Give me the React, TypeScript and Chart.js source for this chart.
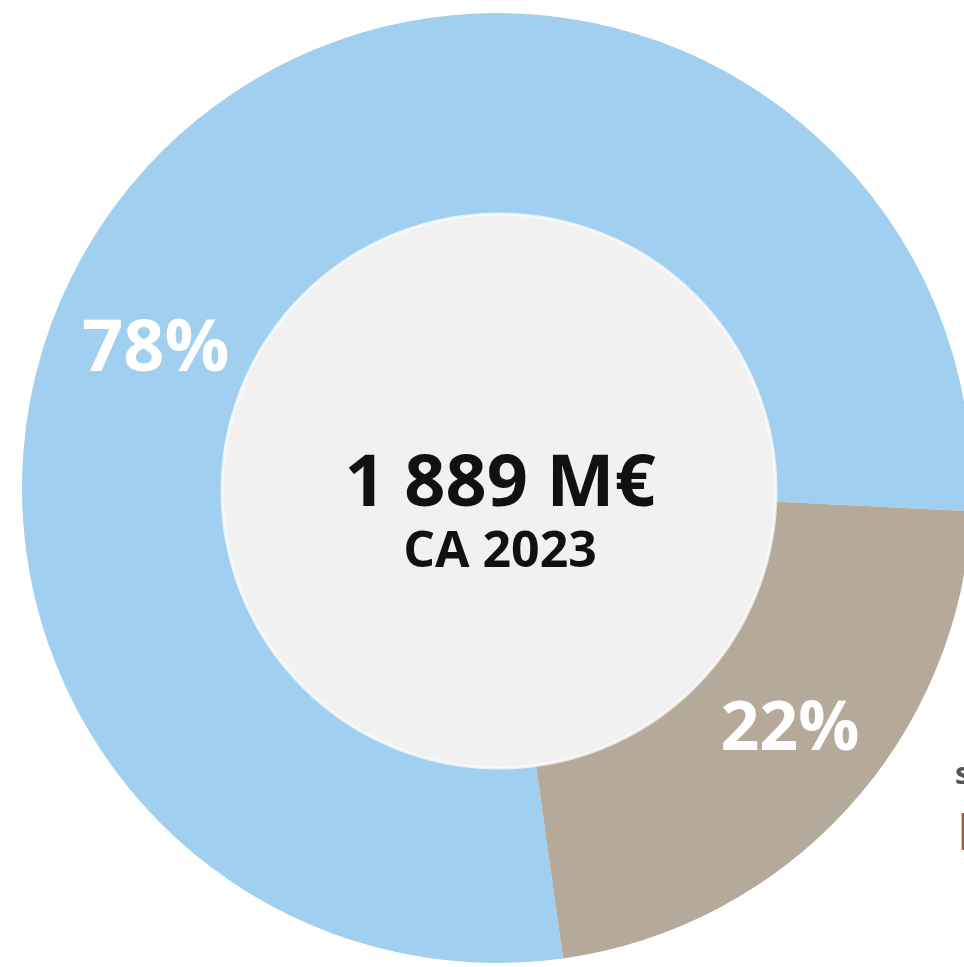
import React, { useEffect, useRef } from "react";
import { Chart, registerables } from "chart.js";

Chart.register(...registerables);

// ---- data ----
const categories = ["Segment A", "Segment B"];
const shares = [78, 22];
const sliceColors = ["#a0cff0", "#b5a999"];
const sliceLabels = ["78%", "22%"];
const centerTitle = "1 889 M€";
const centerSubtitle = "CA 2023";
const edgeTexts = ["s", "I"];

// ---- layout / style ----
const CANVAS_W = 994;
const CANVAS_H = 976;
const OUTER_R = 475;
const INNER_R = 272;
const DISC_R = 277;
const DISC_DX = 2;
const DISC_DY = 3;
const ROTATION = 172.0;
const LABEL_ANGLES = [292.7, 129.0]; // degrees clockwise from top
const LABEL_RADII = [370, 377];
const LABEL_SIZES = [72, 68];
const FONT = "'Open Sans', 'DejaVu Sans', sans-serif";

const overlayPlugin = {
  id: "overlay",
  afterDatasetsDraw(chart: any) {
    const ctx = chart.ctx as CanvasRenderingContext2D;
    const meta = chart.getDatasetMeta(0);
    const arc0 = meta.data[0] as any;
    const { x: cx, y: cy } = arc0.getProps(["x", "y"], true);
    ctx.save();
    // inner disc
    ctx.beginPath();
    ctx.arc(cx + DISC_DX, cy + DISC_DY, DISC_R, 0, Math.PI * 2);
    ctx.fillStyle = "#f1f1f1";
    ctx.fill();
    ctx.lineWidth = 3;
    ctx.strokeStyle = "rgba(255,255,255,0.7)";
    ctx.stroke();

    // slice labels
    ctx.textAlign = "center";
    ctx.textBaseline = "alphabetic";
    ctx.fillStyle = "#ffffff";
    sliceLabels.forEach((t, i) => {
      const a = (LABEL_ANGLES[i] * Math.PI) / 180;
      const lx = cx + LABEL_RADII[i] * Math.sin(a);
      const ly = cy - LABEL_RADII[i] * Math.cos(a);
      ctx.font = `700 ${LABEL_SIZES[i]}px ${FONT}`;
      ctx.fillText(t, lx, ly + LABEL_SIZES[i] * 0.357);
    });

    // center texts
    ctx.fillStyle = "#111111";
    ctx.font = `700 72px ${FONT}`;
    ctx.fillText(centerTitle, cx + 3, 506);
    ctx.font = `700 50px ${FONT}`;
    ctx.fillText(centerSubtitle, cx + 3, 567);

    // cut-off texts at the right edge
    ctx.textAlign = "left";
    ctx.fillStyle = "#555555";
    ctx.font = `700 30px ${FONT}`;
    ctx.fillText(edgeTexts[0], 955, 784);
    ctx.fillStyle = "#9a5a40";
    ctx.font = `700 52px ${FONT}`;
    ctx.fillText(edgeTexts[1], 957, 850);
    ctx.restore();
  },
};

export default function App() {
  const ref = useRef<HTMLCanvasElement | null>(null);
  useEffect(() => {
    if (!ref.current) return;
    const chart = new Chart(ref.current, {
      type: "doughnut",
      data: {
        labels: categories,
        datasets: [
          {
            data: shares,
            backgroundColor: sliceColors,
            borderWidth: 0,
            hoverOffset: 0,
            radius: OUTER_R,
            cutout: `${(INNER_R / OUTER_R) * 100}%`,
          } as any,
        ],
      },
      options: {
        responsive: false,
        animation: false,
        rotation: ROTATION,
        events: [],
        layout: { padding: 0 },
        plugins: {
          legend: { display: false },
          tooltip: { enabled: false },
        },
      },
      plugins: [overlayPlugin],
    });
    return () => chart.destroy();
  }, []);
  return (
    <div
      style={{
        position: "fixed",
        left: 0,
        top: 0,
        width: CANVAS_W,
        height: CANVAS_H,
        background: "#ffffff",
      }}
    >
      <canvas ref={ref} width={CANVAS_W} height={CANVAS_H} />
    </div>
  );
}
